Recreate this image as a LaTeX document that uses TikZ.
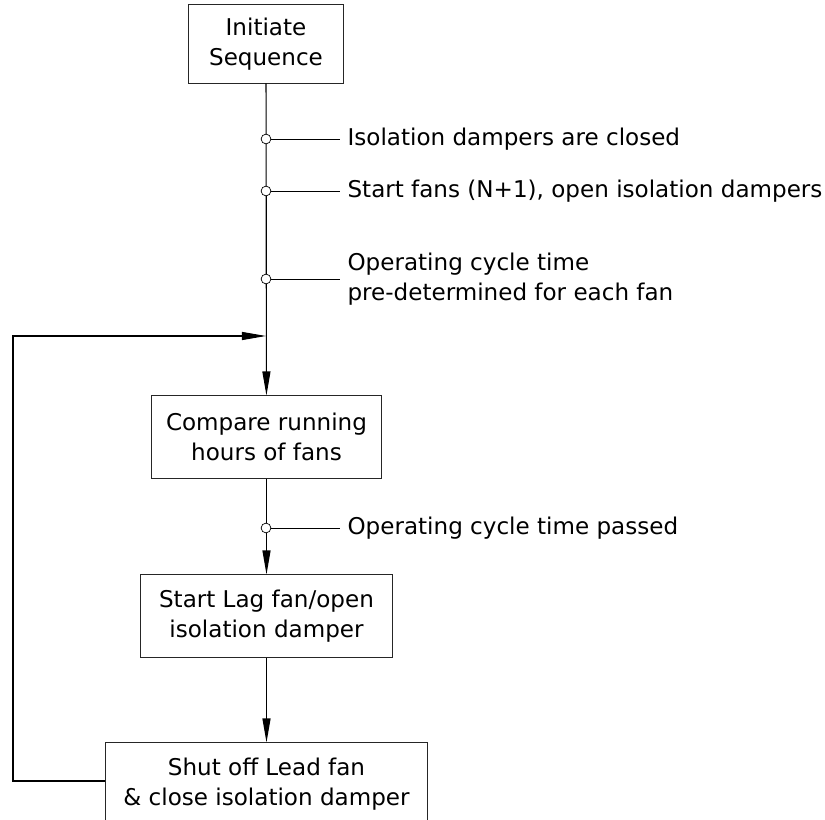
\documentclass[tikz,border=0pt]{standalone}
\usepackage{fontspec}
\setmainfont{DejaVu Sans}
\usetikzlibrary{
	arrows.meta,
	positioning,
}
\tikzset{process/.style={
		% The shape:
		rectangle,
		% The border:
		draw=black!85,
		line width=0.7pt,
		align=center,
		minimum height=2.05cm,
}}
\tikzset{tap/.style={
		circle,
		draw=black,
		fill=white,
		line width=0.5pt,
		inner sep=0pt,
		minimum size=0.245cm,
}}
\tikzset{note/.style={
		anchor=west,
		align=left,
		inner sep=5pt,
}}

\begin{document}
\begin{tikzpicture}[
	x=0.025cm, y=-0.025cm,
	>= {Triangle[length=6mm,width=2mm]},
	line width=0.8pt, black,
	font=\fontsize{16.4}{21.3}\selectfont
	]
	\useasboundingbox (0,0) rectangle (825,820);
	
	%% boxes
	\node (init)[process,minimum width=3.85cm,minimum height=1.95cm] at (266,44) {Initiate\\Sequence};
	\node (compare)[process,minimum width=5.725cm] at (266.5,437) {Compare running\\hours of fans};
	\node (lag)[process,minimum width=6.275cm] at (266.5,616) {Start Lag fan/open\\isolation damper};
	\node (lead)[process,minimum width=8.025cm] at (266.5,784) {Shut off Lead fan\\\& close isolation damper};
	
	%% return point
	\coordinate (join) at (266,336);
	\coordinate (turn1) at (13,781);
	\coordinate (turn2) at (13,336);
	
	%% main flow
	\draw[->] (init) to (compare);
	\draw[->] (compare) to (lag);
	\draw[->] (lag) to (lead);
	\draw[->] (lead.west |- turn1) -- (turn1) -- (turn2) -- (join);
	
	%% taps on the flow line
	\node (tap1)[tap] at (266,139) {};
	\node (tap2)[tap] at (266,191) {};
	\node (tap3)[tap] at (266,279) {};
	\node (tap4)[tap] at (266,528) {};
	
	%% notes
	\node (note1)[note] at (340,139) {Isolation dampers are closed};
	\node (note2)[note] at (340,191) {Start fans (N+1), open isolation dampers};
	\node (note3)[note] at (340,279) {Operating cycle time\\pre-determined for each fan};
	\node (note4)[note] at (340,528) {Operating cycle time passed};
	
	\draw[line width=0.5pt] (tap1) -- (note1.west);
	\draw[line width=0.5pt] (tap2) -- (note2.west);
	\draw[line width=0.5pt] (tap3) -- (note3.west);
	\draw[line width=0.5pt] (tap4) -- (note4.west);
	
\end{tikzpicture}
\end{document}
